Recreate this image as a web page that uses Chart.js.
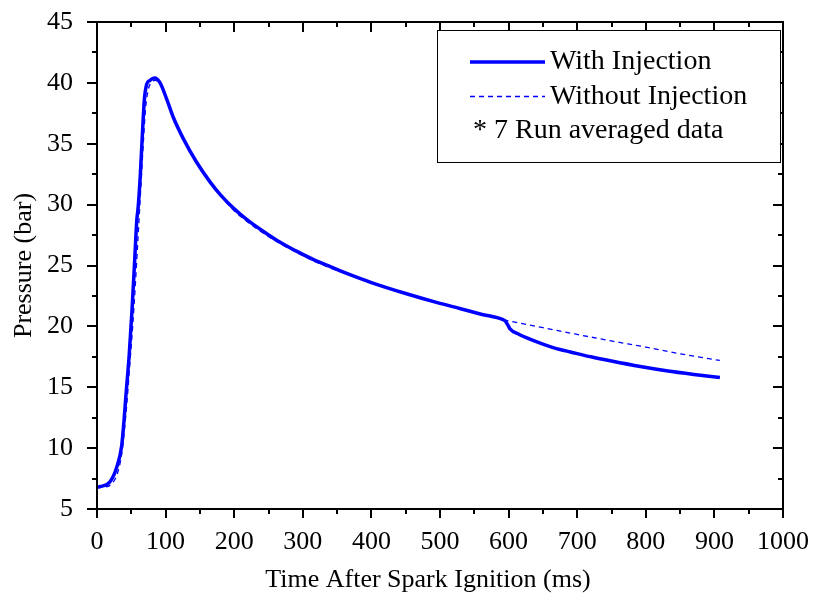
<!DOCTYPE html>
<html>
<head>
<meta charset="utf-8">
<script src="https://cdn.jsdelivr.net/npm/chart.js@4.4.1/dist/chart.umd.min.js"></script>
<style>
  html, body { margin: 0; padding: 0; background: #fff; }
  #wrap { width: 813px; height: 600px; }
</style>
</head>
<body>
<div id="wrap"><canvas id="pressureChart"></canvas></div>
<script>
// With injection (solid)
const timeWith = [0, 4, 19, 29, 36, 39, 42, 47, 51, 55, 58, 60, 63, 66, 69, 72, 77, 84, 92, 102, 111, 126, 145, 165, 180, 200, 219, 240, 267, 290, 315, 340, 364, 400, 450, 496, 530, 560, 592, 595, 599, 602, 615, 631, 650, 675, 690, 720, 750, 792, 830, 870, 908];
const pressureWith = [6.8, 6.83, 7.24, 8.47, 10.2, 12.0, 14.2, 17.7, 21.3, 25.5, 28.7, 29.8, 32.3, 35.6, 38.6, 39.8, 40.2, 40.4, 40.0, 38.6, 37.2, 35.4, 33.5, 31.85, 30.8, 29.65, 28.75, 27.9, 26.9, 26.2, 25.5, 24.9, 24.35, 23.6, 22.7, 21.95, 21.45, 21.0, 20.55, 20.45, 20.1, 19.8, 19.35, 18.95, 18.55, 18.1, 17.9, 17.5, 17.15, 16.7, 16.35, 16.05, 15.8];

// Without injection (dashed)
const timeWithout = [0, 10, 20, 29, 36, 40, 44, 48, 52, 56, 59, 62, 65, 68, 71, 75, 80, 85, 92, 102, 111, 126, 145, 165, 200, 219, 240, 267, 290, 315, 340, 364, 400, 450, 496, 530, 560, 592, 600, 650, 690, 750, 800, 850, 908];
const pressureWithout = [6.8, 6.8, 7.0, 7.8, 9.5, 11.5, 14.0, 17.0, 20.0, 23.5, 26.5, 29.5, 32.5, 35.5, 38.0, 39.5, 40.1, 40.2, 39.9, 38.6, 37.2, 35.4, 33.5, 31.8, 29.5, 28.6, 27.75, 26.8, 26.1, 25.4, 24.8, 24.3, 23.55, 22.7, 21.95, 21.45, 21.0, 20.55, 20.45, 19.9, 19.45, 18.8, 18.3, 17.75, 17.2];

const legendLabels = ["With Injection", "Without Injection", "* 7 Run averaged data"];
const xTitle = "Time After Spark Ignition (ms)";

const FONT = "'Liberation Serif', 'Times New Roman', serif";

// frame box; ticks point out on left/bottom and in on top/right
const frameTicks = {
    id: "frameTicks",
    afterDatasetsDraw(chart) {
        const { ctx, chartArea: a, scales } = chart;
        const x = scales.x, y = scales.y;
        ctx.save();
        ctx.strokeStyle = "#000";
        ctx.lineWidth = 2;
        ctx.strokeRect(a.left, a.top, a.right - a.left, a.bottom - a.top);
        ctx.beginPath();
        for (let v = 0; v <= 1000; v += 50) {
            const px = Math.round(x.getPixelForValue(v));
            const major = v % 100 === 0;
            ctx.moveTo(px, a.bottom); ctx.lineTo(px, a.bottom + (major ? 9 : 5));
            ctx.moveTo(px, a.top); ctx.lineTo(px, a.top + (major ? 10 : 5));
        }
        for (let v = 5; v <= 45; v += 2.5) {
            const py = Math.round(y.getPixelForValue(v));
            const major = v % 5 === 0;
            ctx.moveTo(a.left, py); ctx.lineTo(a.left - (major ? 10 : 5), py);
            ctx.moveTo(a.right, py); ctx.lineTo(a.right - (major ? 10 : 5), py);
        }
        ctx.stroke();

        // x axis title, sitting a little left of the plot centre as in the original
        ctx.fillStyle = "#000";
        ctx.font = "26px " + FONT;
        ctx.textAlign = "center";
        ctx.textBaseline = "middle";
        ctx.fillText(xTitle, (a.left + a.right) / 2 - 12, 580);
        ctx.restore();
    },
};

// boxed legend in the upper right
const boxLegend = {
    id: "boxLegend",
    afterDraw(chart) {
        const { ctx, chartArea: a } = chart;
        const sets = chart.data.datasets;
        const left = a.right - 346, top = a.top + 8, w = 343, h = 132;
        ctx.save();
        ctx.fillStyle = "#fff";
        ctx.fillRect(left, top, w, h);
        ctx.strokeStyle = "#000";
        ctx.lineWidth = 1;
        ctx.strokeRect(left + 0.5, top + 0.5, w, h);
        ctx.font = "28px " + FONT;
        ctx.textBaseline = "middle";
        ctx.fillStyle = "#000";
        legendLabels.forEach((label, i) => {
            const rowY = top + 32 + i * 34.5;
            const ds = sets[i];
            if (ds) {
                ctx.beginPath();
                ctx.strokeStyle = ds.borderColor;
                ctx.lineWidth = ds.borderWidth;
                ctx.setLineDash(ds.borderDash || []);
                ctx.moveTo(left + 33, rowY);
                ctx.lineTo(left + 108, rowY);
                ctx.stroke();
                ctx.setLineDash([]);
                ctx.fillText(label, left + 113, rowY);
            } else {
                ctx.fillText(label, left + 36, rowY);
            }
        });
        ctx.restore();
    },
};

const ctx = document.getElementById("pressureChart").getContext("2d");

new Chart(ctx, {
    type: "line",
    data: {
        datasets: [
            {
                label: legendLabels[0],
                data: timeWith.map((t, i) => ({ x: t, y: pressureWith[i] })),
                borderColor: "#0000ff",
                borderWidth: 3.5,
                pointRadius: 0,
                cubicInterpolationMode: "monotone",
                fill: false,
            },
            {
                label: legendLabels[1],
                data: timeWithout.map((t, i) => ({ x: t, y: pressureWithout[i] })),
                borderColor: "#0000ff",
                borderWidth: 1.3,
                borderDash: [5, 4],
                pointRadius: 0,
                cubicInterpolationMode: "monotone",
                fill: false,
            },
        ],
    },
    options: {
        responsive: true,
        maintainAspectRatio: false,
        animation: false,
        layout: { padding: { top: 22, right: 30, left: 0, bottom: 0 } },
        plugins: {
            legend: { display: false },
            tooltip: { enabled: false },
        },
        scales: {
            x: {
                type: "linear",
                min: 0,
                max: 1000,
                ticks: { stepSize: 100, color: "#000", font: { family: FONT, size: 26 }, padding: 10, maxRotation: 0, callback: (v) => String(v) },
                grid: { display: false },
                border: { display: false },
                title: { display: false },
                afterFit: (s) => { s.height = 91; s.paddingLeft = 0; s.paddingRight = 0; },
            },
            y: {
                type: "linear",
                min: 5,
                max: 45,
                ticks: { stepSize: 5, color: "#000", font: { family: FONT, size: 26 }, padding: 16 },
                grid: { display: false },
                border: { display: false },
                title: { display: true, text: "Pressure (bar)", color: "#000", font: { family: FONT, size: 26 }, padding: { top: 9, bottom: 4 } },
                afterFit: (s) => { s.width = 97; s.paddingTop = 0; s.paddingBottom = 0; },
            },
        },
    },
    plugins: [frameTicks, boxLegend],
});
</script>
</body>
</html>
